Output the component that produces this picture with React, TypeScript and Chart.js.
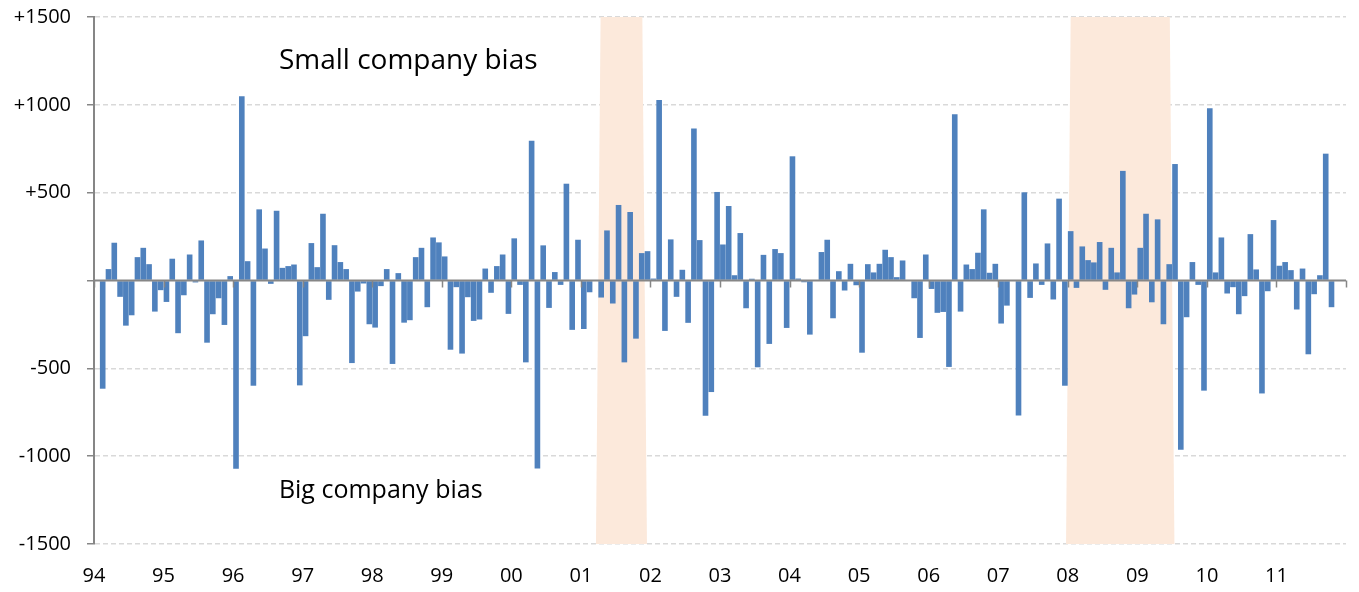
import React, { useEffect, useRef } from 'react';
import { Chart, registerables } from 'chart.js';

Chart.register(...registerables);

// Monthly categories, Jan 1994 .. Dec 2011
const startYear = 1994;
const yearCount = 18;
const monthLabels: string[] = [];
for (let y = 0; y < yearCount; y++) {
  for (let m = 1; m <= 12; m++) {
    monthLabels.push(`${startYear + y}-${String(m).padStart(2, '0')}`);
  }
}

// Year tick labels (one per year boundary, last boundary unlabeled)
const yearLabels = ['94', '95', '96', '97', '98', '99', '00', '01', '02', '03', '04', '05', '06', '07', '08', '09', '10', '11', ''];

// Series values (one per month)
const biasValues: (number | null)[] = [
  null, -616, 65, 215, -93, -257, -198, 133, 186, 93, -177, -55,
  -122, 124, -300, -84, 148, -11, 228, -354, -192, -101, -253, 25,
  -1072, 1049, 110, -599, 405, 182, -19, 397, 72, 82, 91, -597,
  -317, 213, 76, 380, -110, 201, 105, 65, -470, -63, -17, -249,
  -268, -32, 65, -475, 42, -240, -226, 133, 186, -152, 245, 217,
  137, -394, -38, -416, -95, -230, -222, 68, -70, 82, 148, -190,
  240, -25, -466, 795, -1070, 200, -156, 48, -25, 551, -281, 232,
  -276, -67, 0, -97, 285, -131, 430, -466, 390, -331, 156, 167,
  11, 1028, -287, 234, -93, 61, -241, 865, 230, -770, -635, 504,
  205, 424, 30, 270, -158, 10, -494, 146, -361, 179, 156, -270,
  707, 11, -10, -308, 0, 162, 232, -215, 53, -57, 95, -27,
  -411, 93, 46, 95, 175, 133, 19, 114, 0, -101, -327, 148,
  -48, -184, -179, -492, 947, -177, 91, 65, 158, 405, 44, 95,
  -245, -143, 0, -768, 502, -99, 97, -25, 211, -108, 466, -599,
  281, -42, 194, 116, 103, 219, -53, 186, 46, 624, -158, -80,
  186, 380, -124, 348, -249, 93, 663, -964, -209, 105, -25, -627,
  981, 46, 245, -74, -38, -192, -89, 264, 63, -643, -61, 344,
  84, 105, 59, -165, 68, -420, -78, 30, 722, -152, null, null,
];

// Shaded periods (in months since Jan 1994; slightly wider at the bottom)
const shadeTopStart = [87.4, 168.5];
const shadeTopEnd = [94.6, 185.6];
const shadeBottomStart = [86.6, 167.7];
const shadeBottomEnd = [95.4, 186.4];

// Y axis
const yMin = -1500;
const yMax = 1500;
const yStep = 500;

// Annotations
const noteTexts = ['Small company bias', 'Big company bias'];
const noteMonth = [31.9, 31.9];
const noteValue = [1250, -1195];
const noteFontSizes = [28, 25];

const BAR_COLOR = '#4F81BD';
const SHADE_COLOR = '#FCE9DB';
const AXIS_COLOR = '#868686';
const GRID_COLOR = '#D9D9D9';
const FONT = "'Open Sans', 'DejaVu Sans', sans-serif";

const decorPlugin = {
  id: 'decor',
  beforeDatasetsDraw(chart: any) {
    const { ctx, scales } = chart;
    const xs = scales.x2;
    const ys = scales.y;
    ctx.save();
    ctx.fillStyle = SHADE_COLOR;
    for (let i = 0; i < shadeTopStart.length; i++) {
      const yt = ys.getPixelForValue(yMax);
      const yb = ys.getPixelForValue(yMin);
      ctx.beginPath();
      ctx.moveTo(xs.getPixelForValue(shadeTopStart[i]), yt);
      ctx.lineTo(xs.getPixelForValue(shadeTopEnd[i]), yt);
      ctx.lineTo(xs.getPixelForValue(shadeBottomEnd[i]), yb);
      ctx.lineTo(xs.getPixelForValue(shadeBottomStart[i]), yb);
      ctx.closePath();
      ctx.fill();
    }
    ctx.restore();
  },
  afterDatasetsDraw(chart: any) {
    const { ctx, scales, chartArea } = chart;
    const xs = scales.x2;
    const ys = scales.y;
    const y0 = ys.getPixelForValue(0);
    ctx.save();
    ctx.strokeStyle = AXIS_COLOR;
    ctx.lineWidth = 2;
    ctx.beginPath();
    ctx.moveTo(chartArea.left, y0);
    ctx.lineTo(chartArea.right, y0);
    ctx.stroke();
    ctx.lineWidth = 1.5;
    for (let i = 0; i < yearLabels.length; i++) {
      const x = Math.round(xs.getPixelForValue(i * 12)) + 0.5;
      ctx.beginPath();
      ctx.moveTo(x, y0);
      ctx.lineTo(x, y0 + 7);
      ctx.stroke();
    }
    ctx.fillStyle = '#000';
    ctx.textAlign = 'left';
    ctx.textBaseline = 'middle';
    for (let i = 0; i < noteTexts.length; i++) {
      ctx.font = `${noteFontSizes[i]}px ${FONT}`;
      ctx.fillText(noteTexts[i], xs.getPixelForValue(noteMonth[i]), ys.getPixelForValue(noteValue[i]));
    }
    ctx.restore();
  },
};

export default function App() {
  const canvasRef = useRef<HTMLCanvasElement | null>(null);

  useEffect(() => {
    if (!canvasRef.current) return;
    Chart.defaults.font.family = FONT;
    Chart.defaults.color = '#000';
    const chart = new Chart(canvasRef.current, {
      type: 'bar',
      data: {
        labels: monthLabels,
        datasets: [
          {
            label: 'Bias',
            data: biasValues,
            backgroundColor: BAR_COLOR,
            borderWidth: 0,
            barPercentage: 0.97,
            categoryPercentage: 1,
          },
        ],
      },
      options: {
        animation: false,
        responsive: true,
        maintainAspectRatio: false,
        layout: { padding: { left: 0, right: 5, top: 9, bottom: 0 }, autoPadding: false },
        plugins: {
          legend: { display: false },
          tooltip: { enabled: false },
        },
        scales: {
          x: {
            display: false,
          },
          x2: {
            type: 'linear',
            position: 'bottom',
            offset: false,
            min: 0,
            max: yearLabels.length * 12 - 12,
            grid: { display: false, drawTicks: false, offset: false },
            border: { display: false },
            afterBuildTicks: (scale: any) => {
              scale.ticks = yearLabels.map((_, i) => ({ value: i * 12 }));
            },
            afterFit: (scale: any) => {
              scale.height = 40;
              scale.paddingLeft = 0;
              scale.paddingRight = 0;
            },
            ticks: {
              autoSkip: false,
              maxRotation: 0,
              padding: 20,
              font: { size: 20 },
              color: '#000',
              callback: (v: any) => yearLabels[Math.round(Number(v) / 12)] ?? '',
            },
          },
          y: {
            min: yMin,
            max: yMax,
            afterFit: (scale: any) => {
              scale.width = 86;
              scale.paddingTop = 0;
              scale.paddingBottom = 0;
            },
            ticks: {
              stepSize: yStep,
              padding: 16,
              font: { size: 20 },
              color: '#000',
              callback: (v: any) => (v > 0 ? '+' + v : v === 0 ? '' : String(v)),
            },
            grid: {
              color: (c: any) => (c.tick && c.tick.value === 0 ? 'rgba(0,0,0,0)' : GRID_COLOR),
              lineWidth: 1.5,
              tickColor: AXIS_COLOR,
              tickLength: 7,
              tickWidth: 1.5,
              tickBorderDash: [],
            },
            border: { display: true, color: AXIS_COLOR, width: 2, dash: [5, 3] },
          },
        },
      } as any,
      plugins: [decorPlugin],
    });
    return () => chart.destroy();
  }, []);

  return (
    <div style={{ width: 1343, height: 576, position: 'relative' }}>
      <canvas ref={canvasRef} style={{ display: 'block' }} />
    </div>
  );
}
